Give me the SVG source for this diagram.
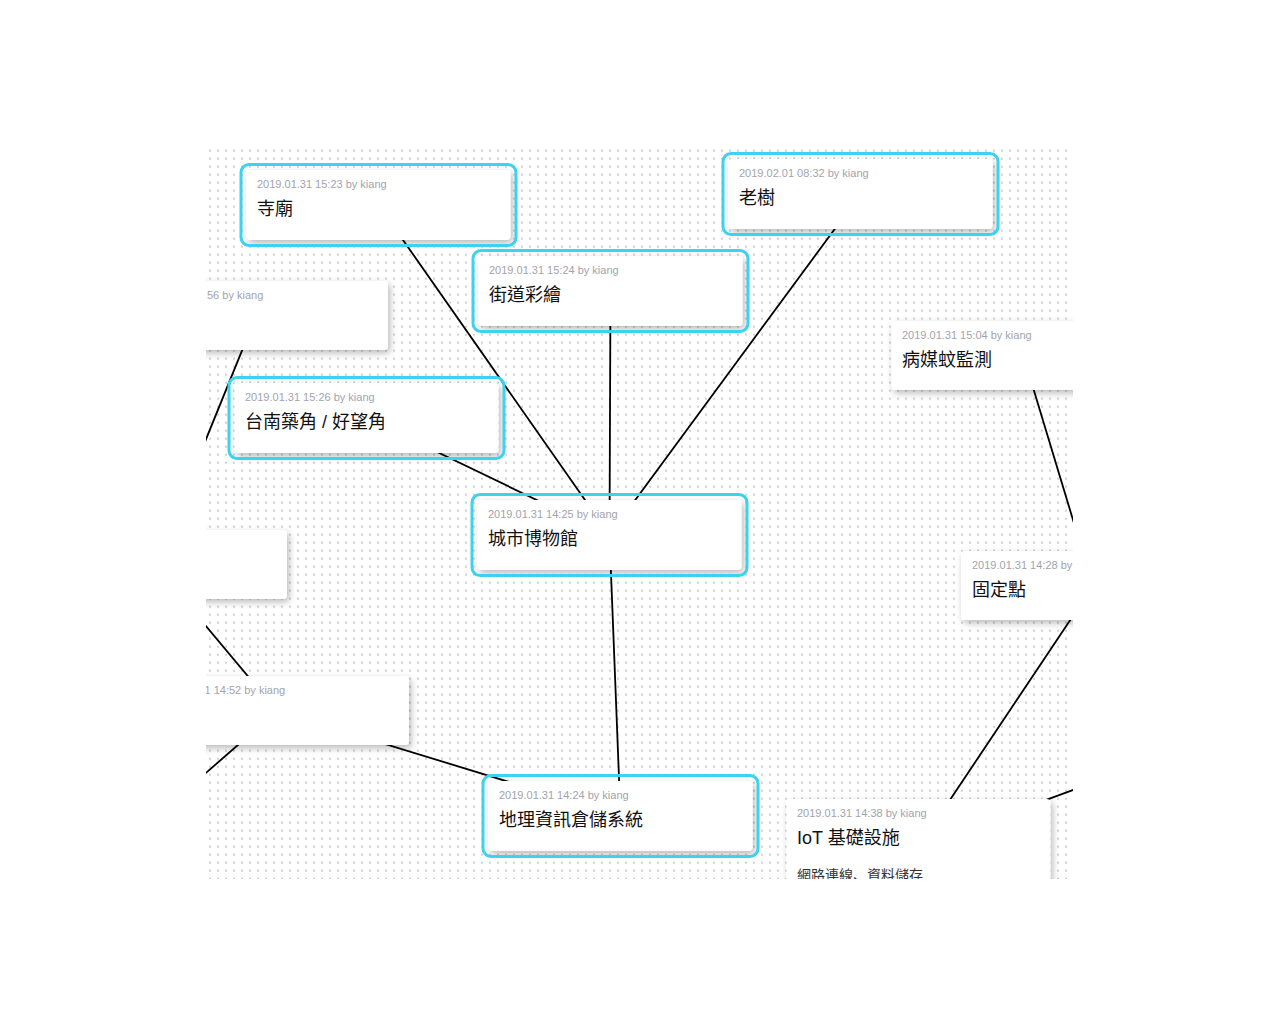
<svg xmlns="http://www.w3.org/2000/svg" width="1280" height="1024" viewBox="0 0 1280 1024">
<defs>
<pattern id="dots" x="209" y="149.7" width="8" height="8" patternUnits="userSpaceOnUse">
<rect x="0" y="0" width="2" height="2" fill="#d2d2d2"/>
</pattern>
<clipPath id="view"><rect x="206" y="148" width="867" height="731"/></clipPath>
<filter id="shadow" x="-10%" y="-20%" width="125%" height="150%">
<feDropShadow dx="2" dy="3" stdDeviation="3.5" flood-color="#000" flood-opacity="0.28"/>
</filter>
</defs>
<style>
.card{fill:#fff;filter:url(#shadow)}
.hl{fill:none;stroke:#3cd2f0;stroke-width:3}
.ts{font-family:"Liberation Sans","Noto Sans CJK TC",sans-serif;font-size:11px;fill:#a3a3ad}
.tt{font-family:"Liberation Sans","Noto Sans CJK TC",sans-serif;font-size:18px;fill:#111}
.ds{font-family:"Liberation Sans","Noto Sans CJK SC",sans-serif;font-size:14px;fill:#333}
.edge{stroke:#000;stroke-width:1.8;fill:none}
</style>
<rect width="1280" height="1024" fill="#fff"/>
<g clip-path="url(#view)">
<rect x="206" y="148" width="864" height="731" fill="url(#dots)"/>
<g id="connectors">
<line class="edge" x1="378.5" y1="205" x2="609.5" y2="535"/>
<line class="edge" x1="610.5" y1="291" x2="609.5" y2="535"/>
<line class="edge" x1="860.5" y1="194" x2="609.5" y2="535"/>
<line class="edge" x1="366.5" y1="418" x2="609.5" y2="535"/>
<line class="edge" x1="609.5" y1="535" x2="620.5" y2="816"/>
<line class="edge" x1="277" y1="711" x2="620.5" y2="816"/>
<line class="edge" x1="256" y1="316" x2="155" y2="565"/>
<line class="edge" x1="155" y1="565" x2="277" y2="711"/>
<line class="edge" x1="277" y1="711" x2="60" y2="900"/>
<line class="edge" x1="1023.5" y1="356" x2="1093" y2="586"/>
<line class="edge" x1="1093" y1="586" x2="918.5" y2="847"/>
<line class="edge" x1="918.5" y1="847" x2="1200" y2="743"/>
</g>
<g id="node-temple">
<rect class="card" x="246.5" y="170" width="264" height="70" rx="4"/>
<rect class="hl" x="241" y="164.5" width="275" height="81" rx="8"/>
<text class="ts" x="257" y="188">2019.01.31 15:23 by kiang</text>
<text class="tt" x="257" y="215">寺廟</text>
</g>
<g id="node-tree">
<rect class="card" x="728.5" y="159" width="264" height="70" rx="4"/>
<rect class="hl" x="723" y="153.5" width="275" height="81" rx="8"/>
<text class="ts" x="739" y="177">2019.02.01 08:32 by kiang</text>
<text class="tt" x="739" y="204">老樹</text>
</g>
<g id="node-street">
<rect class="card" x="478.5" y="256" width="264" height="70" rx="4"/>
<rect class="hl" x="473" y="250.5" width="275" height="81" rx="8"/>
<text class="ts" x="489" y="274">2019.01.31 15:24 by kiang</text>
<text class="tt" x="489" y="301">街道彩繪</text>
</g>
<g id="node-left1">
<rect class="card" x="124" y="281" width="264" height="69" rx="4"/>
<text class="ts" x="207" y="299">56 by kiang</text>
</g>
<g id="node-mosquito">
<rect class="card" x="891.5" y="321" width="264" height="69" rx="4"/>
<text class="ts" x="902" y="339">2019.01.31 15:04 by kiang</text>
<text class="tt" x="902" y="366">病媒蚊監測</text>
</g>
<g id="node-cape">
<rect class="card" x="234.5" y="383" width="264" height="70" rx="4"/>
<rect class="hl" x="229" y="377.5" width="275" height="81" rx="8"/>
<text class="ts" x="245" y="401">2019.01.31 15:26 by kiang</text>
<text class="tt" x="245" y="428">台南築角 <tspan>/</tspan> 好望角</text>
</g>
<g id="node-museum">
<rect class="card" x="477.5" y="500" width="264" height="70" rx="4"/>
<rect class="hl" x="472" y="494.5" width="275" height="81" rx="8"/>
<text class="ts" x="488" y="518">2019.01.31 14:25 by kiang</text>
<text class="tt" x="488" y="545">城市博物館</text>
</g>
<g id="node-left2">
<rect class="card" x="23" y="530" width="264" height="69" rx="4"/>
</g>
<g id="node-left3">
<rect class="card" x="145" y="676" width="264" height="69" rx="4"/>
<text class="ts" x="204.5" y="694">1 14:52 by kiang</text>
</g>
<g id="node-gis">
<rect class="card" x="488.5" y="781" width="264" height="70" rx="4"/>
<rect class="hl" x="483" y="775.5" width="275" height="81" rx="8"/>
<text class="ts" x="499" y="799">2019.01.31 14:24 by kiang</text>
<text class="tt" x="499" y="826">地理資訊倉儲系統</text>
</g>
<g id="node-iot">
<rect class="card" x="786.5" y="799" width="264" height="96" rx="4"/>
<text class="ts" x="797" y="817">2019.01.31 14:38 by kiang</text>
<text class="tt" x="797" y="844">IoT 基礎設施</text>
<text class="ds" x="797" y="880">網路連線、資料儲存</text>
</g>
<g id="node-fixed">
<rect class="card" x="961" y="551" width="264" height="69" rx="4"/>
<text class="ts" x="972" y="569">2019.01.31 14:28 by</text>
<text class="tt" x="972" y="596">固定點</text>
</g>
</g>
</svg>
